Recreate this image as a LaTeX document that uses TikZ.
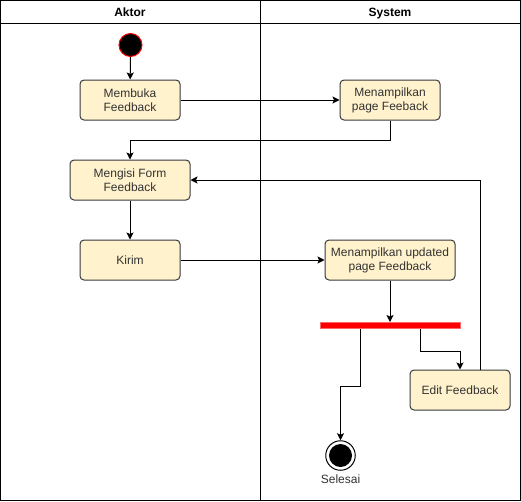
\documentclass[tikz,border=0pt]{standalone}
\usepackage{fontspec}
\setmainfont{Liberation Sans}
\usetikzlibrary{arrows.meta}
\definecolor{boxfill}{HTML}{FFF2CC}
\definecolor{boxline}{HTML}{36393D}
\definecolor{txt}{HTML}{333333}
\definecolor{barline}{HTML}{FF6666}

\begin{document}
\begin{tikzpicture}[x=1pt,y=-1pt,line width=1pt,
	font=\fontsize{12}{14}\selectfont,
	act/.style={draw=boxline,fill=boxfill,rounded corners=4pt,minimum height=40pt,
		inner sep=0pt,align=center,text=txt},
	lane/.style={font=\fontsize{12}{14}\selectfont\bfseries,anchor=base},
	arr/.style={-{Stealth[length=7pt,width=7pt,inset=1.5pt]}}]
	\useasboundingbox (0,0) rectangle (521,501);
	% swimlanes
	\draw (0,0) rectangle (520,500);
	\draw (0,23) -- (520,23);
	\draw (260,0) -- (260,500);
	\node[lane] (aktor) at (130,16.5) {Aktor};
	\node[lane] (system) at (390,16.5) {System};
	% activities
	\node[circle,draw=red,fill=black,minimum size=23pt,inner sep=0pt] (start) at (130.5,45) {};
	\node[act,minimum width=100pt] (membuka) at (130,100) {Membuka\\Feedback};
	\node[act,minimum width=100pt] (tampil) at (390,100) {Menampilkan\\page Feeback};
	\node[act,minimum width=120pt] (mengisi) at (130,180) {Mengisi Form\\Feedback};
	\node[act,minimum width=100pt] (kirim) at (130,260) {Kirim};
	\node[act,minimum width=130pt] (update) at (390,260) {Menampilkan updated\\page Feedback};
	\node[rectangle,draw=barline,fill=red,minimum width=140pt,minimum height=6pt,inner sep=0pt] (bar) at (390,325.5) {};
	\node[act,minimum width=100pt] (edit) at (460,390) {Edit Feedback};
	\node[circle,draw,fill=white,minimum size=29.5pt,inner sep=0pt] (end) at (340.5,455.5) {};
	\fill (end.center) circle [radius=11.5];
	\node[text=txt] (selesai) at (340.5,479) {Selesai};
	% flows
	\draw[arr] (start) -- (membuka);
	\draw[arr] (membuka) -- (tampil);
	\draw[arr] (tampil.south) -- ++(0,20) -| (mengisi.north);
	\draw[arr] (mengisi) -- (kirim);
	\draw[arr] (kirim) -- (update);
	\draw[arr] (update) -- (bar);
	\draw[arr] ([xshift=-30pt]bar.south) -- ++(0,57) -| (end.north);
	\draw[arr] ([xshift=30pt]bar.south) -- ++(0,22) -| (edit.north);
	\draw[arr] ([xshift=20pt]edit.north) |- (mengisi.east);
\end{tikzpicture}
\end{document}
